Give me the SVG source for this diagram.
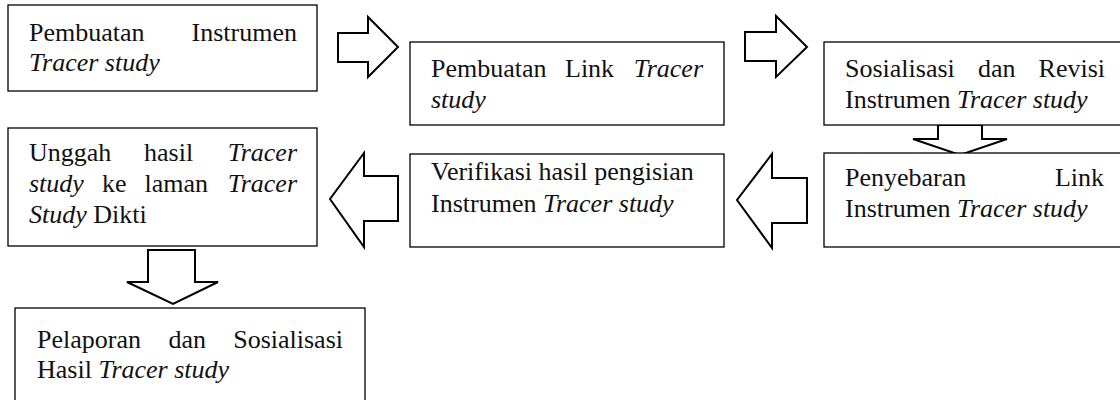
<svg xmlns="http://www.w3.org/2000/svg" width="1120" height="400" viewBox="0 0 1120 400">
<style>
.box{fill:#fff;stroke:#000;stroke-width:1.3}
.arr{fill:#fff;stroke:#000;stroke-width:2;stroke-linejoin:miter}
text{font-family:"Liberation Serif","Times New Roman",serif;font-size:26px;fill:#111}
.i{font-style:italic}
.e{text-anchor:end}
</style>
<rect width="1120" height="400" fill="#fff"/>
<g id="connectors">
<path class="arr" d="M338,33 L368,33 L368,17 L398,47 L368,77 L368,62 L338,62 Z"/>
<path class="arr" d="M745,32 L776,32 L776,16 L807,47 L776,77 L776,61 L745,61 Z"/>
<path class="arr" d="M938,125 L982,125 L982,139 L1007,139 L960,155 L913,139 L938,139 Z"/>
<path class="arr" d="M807,178 L772,178 L772,154 L737,200 L772,248 L772,223 L807,223 Z"/>
<path class="arr" d="M398,176 L364,176 L364,153 L330,199 L364,247 L364,221 L398,221 Z"/>
<path class="arr" d="M148,250 L195,250 L195,282 L218,282 L173,304 L127,282 L148,282 Z"/>
</g>
<g id="n1">
<rect class="box" x="8" y="5" width="309" height="86"/>
<text x="29" y="41">Pembuatan</text>
<text class="e" x="297" y="41">Instrumen</text>
<text class="i" x="29" y="71">Tracer study</text>
</g>
<g id="n2">
<rect class="box" x="410" y="42" width="314" height="83"/>
<text x="431" y="77">Pembuatan</text>
<text x="565" y="77">Link</text>
<text class="e i" x="703" y="77">Tracer</text>
<text class="i" x="431" y="108">study</text>
</g>
<g id="n3">
<rect class="box" x="824" y="42" width="310" height="83"/>
<text x="845" y="77">Sosialisasi</text>
<text x="978" y="77">dan</text>
<text class="e" x="1105" y="77">Revisi</text>
<text x="845" y="108">Instrumen <tspan class="i">Tracer study</tspan></text>
</g>
<g id="n4">
<rect class="box" x="824" y="153" width="310" height="94"/>
<text x="845" y="186">Penyebaran</text>
<text class="e" x="1104" y="186">Link</text>
<text x="845" y="217">Instrumen <tspan class="i">Tracer study</tspan></text>
</g>
<g id="n5">
<rect class="box" x="410" y="154" width="314" height="93"/>
<text x="431" y="180">Verifikasi hasil pengisian</text>
<text x="431" y="212">Instrumen <tspan class="i">Tracer study</tspan></text>
</g>
<g id="n6">
<rect class="box" x="8" y="128" width="309" height="118"/>
<text x="29" y="161">Unggah</text>
<text x="144" y="161">hasil</text>
<text class="e i" x="297" y="161">Tracer</text>
<text class="i" x="29" y="192">study</text>
<text x="102" y="192">ke</text>
<text x="144.6" y="192">laman</text>
<text class="e i" x="297" y="192">Tracer</text>
<text x="29" y="223"><tspan class="i">Study</tspan> Dikti</text>
</g>
<g id="n7">
<rect class="box" x="15" y="308" width="350" height="110"/>
<text x="37" y="348">Pelaporan</text>
<text x="168.4" y="348">dan</text>
<text class="e" x="343" y="348">Sosialisasi</text>
<text x="37" y="378">Hasil <tspan class="i">Tracer study</tspan></text>
</g>
</svg>
